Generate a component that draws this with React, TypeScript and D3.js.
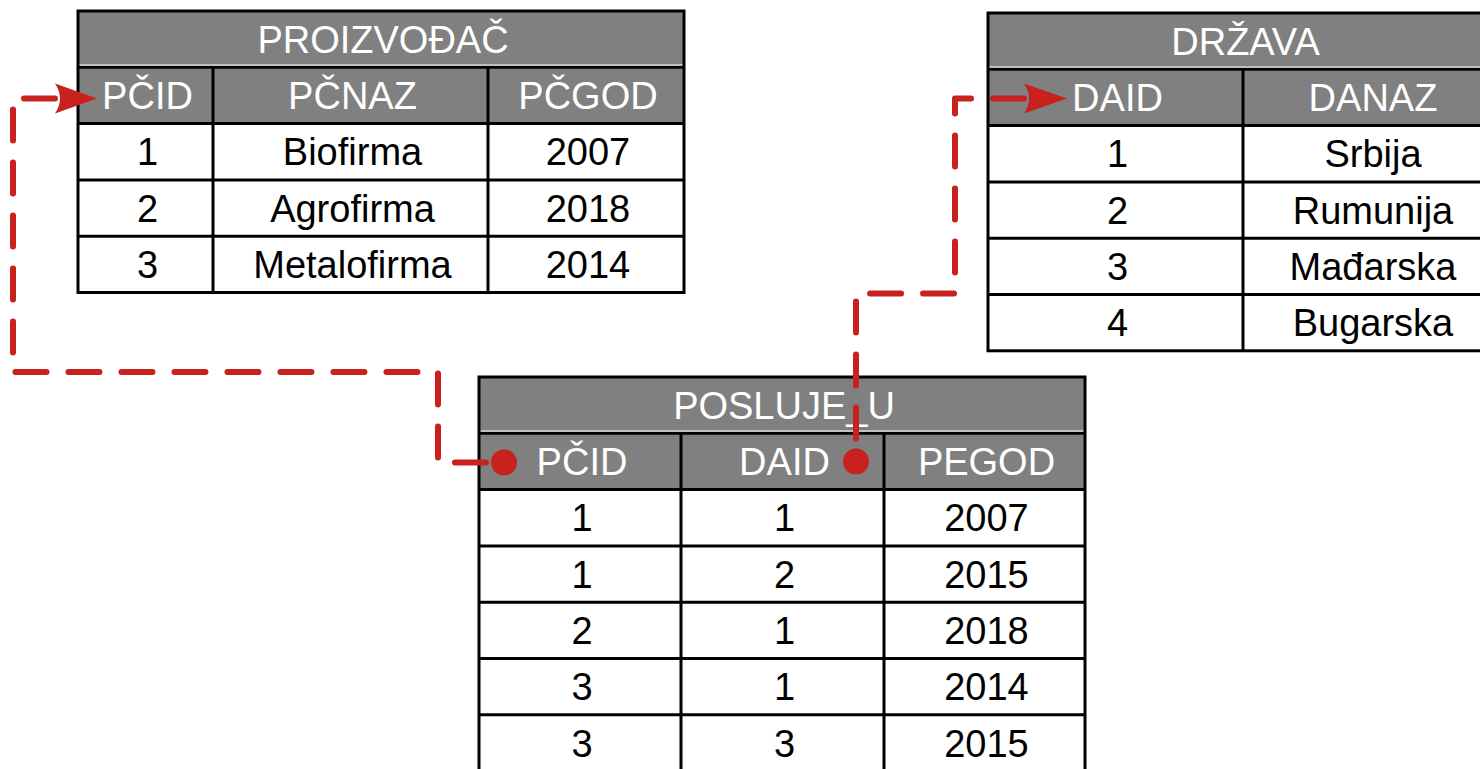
import { useMemo } from "react";
import * as d3 from "d3";

// ---- data ----
const proizvodjacTitle = "PROIZVOĐAČ";
const proizvodjacCols = ["PČID", "PČNAZ", "PČGOD"];
const proizvodjacRows = [
  ["1", "Biofirma", "2007"],
  ["2", "Agrofirma", "2018"],
  ["3", "Metalofirma", "2014"],
];

const drzavaTitle = "DRŽAVA";
const drzavaCols = ["DAID", "DANAZ"];
const drzavaRows = [
  ["1", "Srbija"],
  ["2", "Rumunija"],
  ["3", "Mađarska"],
  ["4", "Bugarska"],
];

const poslujeTitle = "POSLUJE_U";
const poslujeCols = ["PČID", "DAID", "PEGOD"];
const poslujeRows = [
  ["1", "1", "2007"],
  ["1", "2", "2015"],
  ["2", "1", "2018"],
  ["3", "1", "2014"],
  ["3", "3", "2015"],
];

// ---- layout ----
const W = 1480;
const H = 769;
const ROW_H = 56.3;
const GREY = "#808080";
const RED = "#c9211e";
const FONT = "'Liberation Sans', Arial, sans-serif";
const FS = 38;
const TX = 2; // text sits a touch right of the cell centre

type Table = {
  title: string;
  cols: string[];
  rows: string[][];
  edges: number[]; // column edges in px
  top: number;
};

const tables: Table[] = [
  { title: proizvodjacTitle, cols: proizvodjacCols, rows: proizvodjacRows, edges: [78, 213, 488, 684], top: 11 },
  { title: drzavaTitle, cols: drzavaCols, rows: drzavaRows, edges: [988, 1243, 1499], top: 13 },
  { title: poslujeTitle, cols: poslujeCols, rows: poslujeRows, edges: [479, 681, 884, 1085], top: 377 },
];

function bandFor(t: Table) {
  const keys = ["title", "header", ...t.rows.map((_, i) => `r${i}`)];
  return d3
    .scaleBand<string>()
    .domain(keys)
    .range([t.top, t.top + keys.length * ROW_H])
    .padding(0);
}

function TableView({ t }: { t: Table }) {
  const y = bandFor(t);
  const left = t.edges[0];
  const right = t.edges[t.edges.length - 1];
  const bottom = y.range()[1];
  const headY = y("header")!;
  const bw = y.bandwidth();
  const cx = (i: number) => (t.edges[i] + t.edges[i + 1]) / 2 + TX;
  const base = (yy: number) => yy + bw / 2 + FS * 0.36;

  return (
    <g>
      <rect x={left} y={t.top} width={right - left} height={bw * 2} fill={GREY} />
      <rect x={left} y={headY + bw} width={right - left} height={bottom - headY - bw} fill="#fff" />
      {/* white line under title */}
      <line x1={left} x2={right} y1={headY - 2} y2={headY - 2} stroke="#fff" strokeWidth={1.5} />

      {y.domain().slice(1).map((k) => (
        <line key={k} x1={left} x2={right} y1={y(k)} y2={y(k)} stroke="#000" strokeWidth={3} />
      ))}
      {t.edges.slice(1, -1).map((x, i) => (
        <line key={i} x1={x} x2={x} y1={headY} y2={bottom} stroke="#000" strokeWidth={3} />
      ))}
      <rect x={left} y={t.top} width={right - left} height={bottom - t.top} fill="none" stroke="#000" strokeWidth={3} />

      <text x={(left + right) / 2 + TX} y={base(t.top)} textAnchor="middle" fill="#fff" fontSize={FS} fontFamily={FONT}>
        {t.title}
      </text>
      {t.cols.map((c, i) => (
        <text key={c + i} x={cx(i)} y={base(headY)} textAnchor="middle" fill="#fff" fontSize={FS} fontFamily={FONT}>
          {c}
        </text>
      ))}
      {t.rows.map((r, ri) =>
        r.map((v, ci) => (
          <text key={`${ri}-${ci}`} x={cx(ci)} y={base(y(`r${ri}`)!)} textAnchor="middle" fill="#000" fontSize={FS} fontFamily={FONT}>
            {v}
          </text>
        ))
      )}
    </g>
  );
}

function Connector({ pts, tipX }: { pts: [number, number][]; tipX: number }) {
  const line = d3.line();
  const [bx, by] = pts[pts.length - 1];
  const ah = 15;
  // reversed so the dash pattern starts at the arrow end
  const d = line([...pts].reverse())!;
  const arrow = `M${tipX},${by} L${bx},${by - ah} Q${bx + 10},${by} ${bx},${by + ah} Z`;
  const [sx, sy] = pts[0];
  return (
    <g>
      <path d={d} fill="none" stroke={RED} strokeWidth={6} strokeDasharray="31 22" strokeLinecap="round" strokeLinejoin="round" />
      <path d={arrow} fill={RED} />
      <circle cx={sx} cy={sy} r={13} fill={RED} />
    </g>
  );
}

export default function App() {
  const [proiz, drz, posl] = tables;

  const conns = useMemo(() => {
    const yp = bandFor(proiz);
    const yd = bandFor(drz);
    const ys = bandFor(posl);
    const bw = yp.bandwidth();
    const headP = yp("header")! + bw / 2 + 3;
    const headD = yd("header")! + bw / 2 + 1;
    const headS = ys("header")! + bw / 2 + 1;

    // POSLUJE_U.PČID -> PROIZVOĐAČ.PČID
    const a: [number, number][] = [
      [posl.edges[0] + 25, headS],
      [posl.edges[0] - 41, headS],
      [posl.edges[0] - 41, posl.top - 5],
      [proiz.edges[0] - 65, posl.top - 5],
      [proiz.edges[0] - 65, headP],
      [proiz.edges[0] - 23, headP],
    ];
    // POSLUJE_U.DAID -> DRŽAVA.DAID
    const routeY = yp.range()[1] + 1;
    const b: [number, number][] = [
      [posl.edges[2] - 28, headS - 1],
      [posl.edges[2] - 28, routeY],
      [drz.edges[0] - 33, routeY],
      [drz.edges[0] - 33, headD],
      [drz.edges[0] + 36, headD],
    ];
    return [
      { pts: a, tipX: proiz.edges[0] + 19 },
      { pts: b, tipX: drz.edges[0] + 79 },
    ];
  }, []);

  return (
    <div style={{ position: "absolute", left: 0, top: 0, width: W, height: H, background: "#fff" }}>
      <svg width={W} height={H} style={{ display: "block" }}>
        {tables.map((t) => (
          <TableView key={t.title} t={t} />
        ))}
        {conns.map((c, i) => (
          <Connector key={i} pts={c.pts} tipX={c.tipX} />
        ))}
      </svg>
    </div>
  );
}
